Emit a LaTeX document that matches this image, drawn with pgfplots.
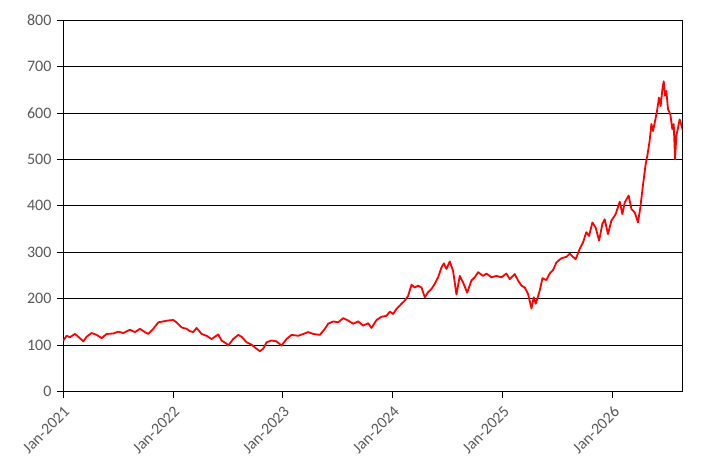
\documentclass[border=0pt]{standalone}
\usepackage{fontspec}
\setmainfont{Carlito}
\usepackage{pgfplots}
\pgfplotsset{compat=1.18}
\definecolor{tickgray}{HTML}{595959}
\begin{document}
\fontsize{16bp}{19bp}\selectfont
\begin{tikzpicture}
\begin{axis}[
 scale only axis, width=619.7bp, height=371.7bp,
 xmin=2021, xmax=2026.634, ymin=0, ymax=800,
 xtick={2021,2022,2023,2024,2025,2026},
 xticklabels={Jan-2021,Jan-2022,Jan-2023,Jan-2024,Jan-2025,Jan-2026},
 ytick={0,100,...,800},
 ymajorgrids, grid style={black, line width=0.75bp},
 axis line style={black, line width=0.75bp},
 tick style={black, line width=0.75bp},
 tick align=outside, major tick length=6bp,
 xtick pos=bottom, ytick pos=left,
 ticklabel style={font=\fontsize{16bp}{19bp}\selectfont, text=tickgray},
 xticklabel style={rotate=45, anchor=north east},
 /pgf/number format/assume math mode=true,
 yticklabel style={/pgf/number format/1000 sep={}},
]
\addplot[red, line width=1.8bp, line join=round] coordinates {
(2021.003,110) (2021.033,120) (2021.064,117) (2021.109,124) (2021.139,118)
(2021.185,108) (2021.215,118) (2021.261,126) (2021.306,122) (2021.352,115)
(2021.397,124) (2021.458,125) (2021.503,129) (2021.548,126) (2021.609,133)
(2021.655,128) (2021.700,135) (2021.745,128) (2021.776,124) (2021.821,135)
(2021.867,149) (2021.912,151) (2021.958,153) (2022.003,154) (2022.033,149)
(2022.079,138) (2022.124,135) (2022.155,130) (2022.185,128) (2022.215,137)
(2022.261,124) (2022.306,120) (2022.352,113) (2022.382,118) (2022.412,123)
(2022.442,110) (2022.488,103) (2022.503,99) (2022.548,113) (2022.594,122)
(2022.624,118) (2022.670,106) (2022.715,101) (2022.761,92) (2022.791,87)
(2022.821,92) (2022.852,106) (2022.897,110) (2022.942,108) (2022.988,99)
(2023.033,113) (2023.079,122) (2023.139,120) (2023.185,124) (2023.230,128)
(2023.276,124) (2023.336,122) (2023.382,135) (2023.412,146) (2023.458,151)
(2023.503,149) (2023.548,158) (2023.594,153) (2023.639,146) (2023.685,151)
(2023.730,142) (2023.776,147) (2023.806,137) (2023.852,154) (2023.897,161)
(2023.942,163) (2023.973,172) (2024.003,167) (2024.033,178) (2024.079,189)
(2024.109,196) (2024.139,206) (2024.170,230) (2024.200,224) (2024.230,228)
(2024.261,224) (2024.291,203) (2024.321,214) (2024.352,221) (2024.382,232)
(2024.412,246) (2024.442,267) (2024.464,276) (2024.488,264) (2024.518,280)
(2024.548,260) (2024.579,209) (2024.609,249) (2024.639,235) (2024.676,213)
(2024.715,239) (2024.745,246) (2024.776,257) (2024.821,249) (2024.852,254)
(2024.897,246) (2024.942,249) (2024.988,246) (2025.033,254) (2025.064,242)
(2025.109,253) (2025.139,239) (2025.170,228) (2025.200,224) (2025.230,210)
(2025.261,179) (2025.282,203) (2025.300,189) (2025.336,217) (2025.361,244)
(2025.397,240) (2025.427,254) (2025.458,262) (2025.488,278) (2025.533,287)
(2025.579,290) (2025.609,297) (2025.639,290) (2025.663,285) (2025.700,307)
(2025.730,321) (2025.760,343) (2025.785,335) (2025.815,364) (2025.845,353)
(2025.876,325) (2025.906,361) (2025.927,371) (2025.957,339) (2025.988,368)
(2026.027,382) (2026.064,409) (2026.088,382) (2026.109,407) (2026.145,422)
(2026.170,393) (2026.200,386) (2026.230,364) (2026.251,396) (2026.276,446)
(2026.300,490) (2026.315,508) (2026.336,540) (2026.352,576) (2026.367,561)
(2026.382,579) (2026.403,604) (2026.421,633) (2026.436,615) (2026.452,651)
(2026.464,668) (2026.476,637) (2026.488,647) (2026.503,608) (2026.524,597)
(2026.542,565) (2026.555,576) (2026.567,500) (2026.579,551) (2026.594,568)
(2026.609,586) (2026.640,561)
};
\end{axis}
\pgfresetboundingbox
\path[use as bounding box] (-63bp,-80bp) rectangle (653.3bp,391.7bp);
\end{tikzpicture}
\end{document}
